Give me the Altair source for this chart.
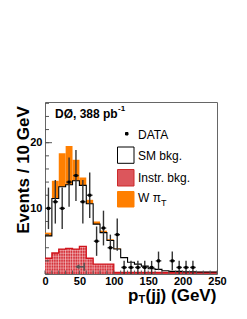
import altair as alt
import pandas as pd
import numpy as np

FONT = "Liberation Sans"

# ---- data ----
bin_lo = list(range(0, 250, 10))
sm_bkg = [5.8, 11.5, 13.3, 13.6, 14.2, 13.5, 10.7, 7.6, 6.3, 5.1, 3.8, 2.5, 1.8,
          1.5, 1.2, 0.8, 0.7, 0.5, 0.4, 0.4, 0.35, 0.35, 0.3, 0.3, 0.3]
w_pit = [0.5, 2.7, 5.1, 5.9, 3.2, 1.2, 0.6, 0.4, 0.3, 0.2, 0.1, 0, 0,
         0, 0, 0, 0, 0, 0, 0, 0, 0, 0, 0, 0]
instr_bkg = [2.4, 3.2, 3.8, 3.9, 3.8, 4.2, 2.4, 1.5, 1.5, 1.5, 0.25, 0.25, 0.25,
             0.25, 0.25, 0.25, 0.25, 0.25, 0.25, 0.25, 0.25, 0.25, 0.25, 0.25, 0.25]
data_counts = [10, 11, 10, 14, 15, 11, 12, 5, 7, 4, 6, 1, 1,
               1, 1, 1, 2, 0, 2, 1, 1, 1, 0, 0, 0]
x_ticks = [0, 50, 100, 150, 200, 250]
y_ticks = [10, 20]
arrow_x = [47, 57]
arrow_y = 1.1

BW = 10
hist = pd.DataFrame({
    "lo": bin_lo,
    "hi": [b + BW for b in bin_lo],
    "sm": sm_bkg,
    "top": [s + w for s, w in zip(sm_bkg, w_pit)],
    "instr": instr_bkg,
})
edges = pd.DataFrame({
    "x": bin_lo + [bin_lo[-1] + BW],
    "sm": sm_bkg + [sm_bkg[-1]],
    "instr": instr_bkg + [instr_bkg[-1]],
})
pts = pd.DataFrame({
    "x": [b + BW / 2 for b in bin_lo],
    "n": data_counts,
})
pts = pts[pts.n > 0].copy()
pts["elo"] = pts.n - np.sqrt(pts.n)
pts["ehi"] = pts.n + np.sqrt(pts.n)
pts["xl"] = pts.x - 4
pts["xr"] = pts.x + 4

# hatch grid for the instrumental background
hrows = []
for lo, v in zip(bin_lo, instr_bkg):
    if v < 1:
        continue
    for yy in np.arange(0.45, v - 0.1, 0.45):
        hrows.append({"x": lo, "x2": lo + BW, "y": yy, "y2": yy})
for xx in np.arange(2, 100, 3.5):
    v = instr_bkg[int(xx // BW)]
    if v >= 1:
        hrows.append({"x": xx, "x2": xx, "y": 0, "y2": v})
hatch = pd.DataFrame(hrows)

xs = alt.Scale(domain=[0, 250], nice=False, zero=False)
ys = alt.Scale(domain=[0, 26.2], nice=False, zero=False)

X_AX = alt.Axis(values=x_ticks, ticks=False, domain=False, grid=False, title=None,
                labelFont=FONT, labelFontWeight="bold", labelFontSize=11,
                labelPadding=1, labelFlush=False, labelOverlap=False, labelColor="black")
Y_AX = alt.Axis(values=y_ticks, ticks=False, domain=False, grid=False, title=None,
                labelFont=FONT, labelFontWeight="bold", labelFontSize=11,
                labelPadding=3, labelOverlap=False, labelColor="black")


def X(f):
    return alt.X(f, scale=xs, axis=X_AX)


def Y(f):
    return alt.Y(f, scale=ys, axis=Y_AX)


base = alt.Chart(hist)

orange = base.mark_rect(color="#ff7f00").encode(
    x=X("lo:Q"), x2="hi:Q", y=Y("sm:Q"), y2="top:Q")

instr_fill = base.mark_rect(color="#d6323a").encode(
    x=X("lo:Q"), x2="hi:Q", y=Y("instr:Q"), y2=alt.datum(0))

hatch_lines = alt.Chart(hatch).mark_rule(color="white", strokeWidth=0.7, opacity=0.55).encode(
    x=X("x:Q"), x2="x2:Q", y=Y("y:Q"), y2="y2:Q")

instr_line = alt.Chart(edges).mark_line(interpolate="step-after", color="#d0141c",
                                        strokeWidth=1.3).encode(
    x=X("x:Q"), y=Y("instr:Q"))

sm_line = alt.Chart(edges).mark_line(interpolate="step-after", color="black",
                                     strokeWidth=1.1).encode(
    x=X("x:Q"), y=Y("sm:Q"))

# inward ticks
ytick_df = pd.DataFrame({"v": list(np.arange(0, 26.1, 2))})
yt = alt.Chart(ytick_df).mark_rule(color="#555", strokeWidth=1).encode(
    y=Y("v:Q"), x=alt.value(0), x2=alt.value(4))
ytm = alt.Chart(pd.DataFrame({"v": y_ticks})).mark_rule(color="#555", strokeWidth=1).encode(
    y=Y("v:Q"), x=alt.value(0), x2=alt.value(7))
xtick_df = pd.DataFrame({"v": list(range(0, 251, 10))})
xt_minor = alt.Chart(xtick_df).mark_rule(color="#555", strokeWidth=1).encode(
    x=X("v:Q"), y=alt.value(172), y2=alt.value(168.5))

err_v = alt.Chart(pts).mark_rule(color="#333", strokeWidth=1.4).encode(
    x=X("x:Q"), y=Y("elo:Q"), y2="ehi:Q")
err_h = alt.Chart(pts).mark_rule(color="#222", strokeWidth=1.4).encode(
    x=X("xl:Q"), x2="xr:Q", y=Y("n:Q"))
dots = alt.Chart(pts).mark_square(color="black", size=9, opacity=1).encode(
    x=X("x:Q"), y=Y("n:Q"))

arr_df = pd.DataFrame({"x": [arrow_x[0]], "x2": [arrow_x[1]], "y": [arrow_y]})
arr_line = alt.Chart(arr_df).mark_rule(color="#555", strokeWidth=1.5).encode(
    x=X("x:Q"), x2="x2:Q", y=Y("y:Q"))
arr_head = alt.Chart(arr_df).mark_point(shape="triangle-left", filled=True, color="#555",
                                        size=25, opacity=1).encode(
    x=X("x:Q"), y=Y("y:Q"))
arr_bar = alt.Chart(pd.DataFrame({"x": [arrow_x[1]], "y": [arrow_y - 0.6], "y2": [arrow_y + 0.6]})
                    ).mark_rule(color="#555", strokeWidth=1.5).encode(
    x=X("x:Q"), y=Y("y:Q"), y2="y2:Q")

ONE = alt.Data(values=[{"t": 0}])


def text(txt, x, y, size=12, weight="normal", align="left", angle=0):
    return alt.Chart(ONE).mark_text(text=txt, font=FONT, fontSize=size, fontWeight=weight,
                                    align=align, baseline="middle", angle=angle,
                                    color="black").encode(x=alt.value(x), y=alt.value(y))


def box(x, x2, y, y2, fill, stroke):
    return alt.Chart(ONE).mark_rect(fill=fill, stroke=stroke, strokeWidth=1).encode(
        x=alt.value(x), x2=alt.value(x2), y=alt.value(y), y2=alt.value(y2))


legend = [
    box(80.5, 83, 30.5, 33, "black", "black"),
    text("DATA", 93, 32.5),
    box(72.5, 89, 45, 61.3, "white", "black"),
    text("SM bkg.", 93, 54),
    box(72.5, 89, 67.5, 84, "#dc565c", "#cc2a2a"),
    text("Instr. bkg.", 93, 75.7),
    box(72.5, 89, 89.5, 105, "#ff7f00", "#ff7f00"),
    text("W π", 93, 96.3),
    text("T", 116, 100.5, size=9),
    text("DØ, 388 pb", 10, 11.5, size=12, weight="bold"),
    text("-1", 73, 7, size=8, weight="bold"),
    text("Events / 10 GeV", -21, 68, size=17, weight="bold", align="center", angle=270),
    text("p", 83, 194, size=17, weight="bold"),
    text("T", 93.5, 198, size=11, weight="bold"),
    text("(jj) (GeV)", 100.5, 194, size=17, weight="bold"),
]

chart = alt.layer(
    orange, instr_fill, hatch_lines, instr_line, sm_line, yt, ytm, xt_minor,
    err_v, err_h, dots, arr_line, arr_head, arr_bar, *legend
).properties(
    width=172, height=172,
    autosize=alt.AutoSizeParams(type="none"),
    padding={"left": 37, "top": 94, "right": 22, "bottom": 37},
).configure_view(stroke="#666", strokeWidth=1)

chart.save("out.html", embed_options={"renderer": "svg", "actions": False})
